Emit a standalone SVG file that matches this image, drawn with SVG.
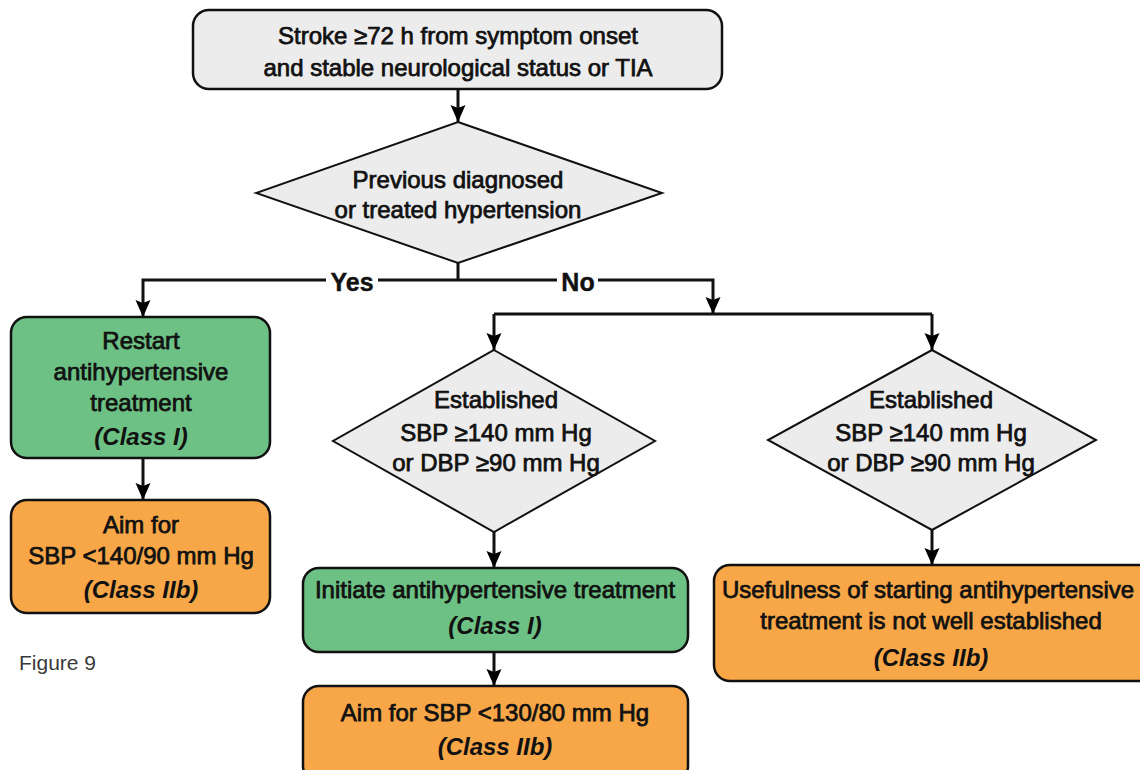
<svg xmlns="http://www.w3.org/2000/svg" width="1140" height="770" viewBox="0 0 1140 770">
<defs>
<marker id="ah" markerUnits="userSpaceOnUse" markerWidth="18" markerHeight="18" viewBox="0 0 18 18" refX="17" refY="9" orient="auto">
<path d="M0,1.5 L17,9 L0,16.5 L3,9 Z" fill="#000"/>
</marker>
<style>
.box{stroke:#111;stroke-width:2.5}
.gray{fill:#ececec}
.green{fill:#6dc184}
.orange{fill:#f7a748}
.dia{fill:#ececec;stroke:#111;stroke-width:2}
.t{font-family:"Liberation Sans",Arial,sans-serif;font-size:24px;fill:#111;text-anchor:middle;stroke:#111;stroke-width:0.75}
.c{font-family:"Liberation Sans",Arial,sans-serif;font-size:24px;font-weight:bold;font-style:italic;fill:#111;text-anchor:middle}
.lbl{font-family:"Liberation Sans",Arial,sans-serif;font-size:25px;font-weight:bold;fill:#111;text-anchor:middle;stroke:#111;stroke-width:0.4}
.ln{fill:none;stroke:#111;stroke-width:3}
.arr{fill:none;stroke:#111;stroke-width:3;marker-end:url(#ah)}
</style>
</defs>
<rect width="1140" height="770" fill="#fff"/>

<g id="connectors">
<path class="arr" d="M458,89 V122"/>
<path class="ln" d="M458,263 V280"/>
<path class="arr" d="M326,280 H143 V317"/>
<path class="ln" d="M378,280 H557"/>
<path class="arr" d="M598,280 H713 V314"/>
<path class="ln" d="M494,314 H932"/>
<path class="arr" d="M494,314 V350"/>
<path class="arr" d="M932,314 V350"/>
<path class="arr" d="M143,458 V500"/>
<path class="arr" d="M494,532 V568"/>
<path class="arr" d="M494,652 V686"/>
<path class="arr" d="M932,530 V565"/>
<text class="lbl" x="352" y="291">Yes</text>
<text class="lbl" x="578" y="291">No</text>
</g>

<g id="start">
<rect class="box gray" x="193" y="10" width="529" height="79" rx="16"/>
<text class="t" x="458" y="44">Stroke ≥72 h from symptom onset</text>
<text class="t" x="458" y="76">and stable neurological status or TIA</text>
</g>

<g id="q1">
<polygon class="dia" points="458,122 662,193 458,263 256,193"/>
<text class="t" x="458" y="188">Previous diagnosed</text>
<text class="t" x="458" y="218">or treated hypertension</text>
</g>

<g id="restart">
<rect class="box green" x="11" y="317" width="259" height="141" rx="16"/>
<text class="t" x="141" y="349">Restart</text>
<text class="t" x="141" y="380">antihypertensive</text>
<text class="t" x="141" y="411">treatment</text>
<text class="c" x="141" y="445">(Class I)</text>
</g>

<g id="aim140">
<rect class="box orange" x="11" y="500" width="259" height="113" rx="16"/>
<text class="t" x="141" y="533">Aim for</text>
<text class="t" x="141" y="564">SBP &lt;140/90 mm Hg</text>
<text class="c" x="141" y="598">(Class IIb)</text>
</g>

<g id="q2">
<polygon class="dia" points="494,350 655,441 494,532 333,441"/>
<text class="t" x="496" y="408">Established</text>
<text class="t" x="496" y="441">SBP ≥140 mm Hg</text>
<text class="t" x="496" y="471">or DBP ≥90 mm Hg</text>
</g>

<g id="q3">
<polygon class="dia" points="932,350 1096,440 932,530 768,440"/>
<text class="t" x="931" y="408">Established</text>
<text class="t" x="931" y="441">SBP ≥140 mm Hg</text>
<text class="t" x="931" y="471">or DBP ≥90 mm Hg</text>
</g>

<g id="initiate">
<rect class="box green" x="303" y="568" width="385" height="84" rx="16"/>
<text class="t" x="495" y="598">Initiate antihypertensive treatment</text>
<text class="c" x="495" y="634">(Class I)</text>
</g>

<g id="aim130">
<rect class="box orange" x="303" y="686" width="385" height="96" rx="16"/>
<text class="t" x="495" y="721">Aim for SBP &lt;130/80 mm Hg</text>
<text class="c" x="495" y="755">(Class IIb)</text>
</g>

<g id="usefulness">
<rect class="box orange" x="714" y="565" width="440" height="116" rx="16"/>
<text class="t" x="928" y="598">Usefulness of starting antihypertensive</text>
<text class="t" x="931" y="629">treatment is not well established</text>
<text class="c" x="931" y="666">(Class IIb)</text>
</g>

<text x="19" y="670" font-family="Liberation Sans, Arial, sans-serif" font-size="21" fill="#3a3a3a">Figure 9</text>
</svg>
